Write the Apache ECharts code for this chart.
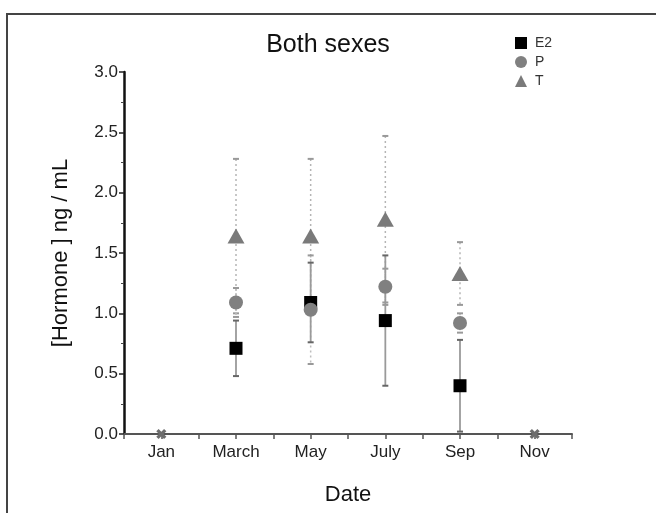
<!DOCTYPE html>
<html><head><meta charset="utf-8">
<script src="https://cdn.jsdelivr.net/npm/echarts@6/dist/echarts.min.js"></script>
<style>html,body{margin:0;padding:0;background:#fff}#c{width:656px;height:513px}</style>
</head><body><div id="c"></div>
<script>
// Tick labels on the month axis
const tickMonths = [1, 3, 5, 7, 9, 11];
const tickLabels = ['Jan', 'March', 'May', 'July', 'Sep', 'Nov'];
// Sampling months
const sampleMonths = [3, 5, 7, 9];
// Hormone means and errors (ng/mL)
const e2Values = [0.71, 1.09, 0.94, 0.40];
const e2Errors = [0.23, 0.33, 0.54, 0.38];
const pValues = [1.09, 1.03, 1.22, 0.92];
const pErrors = [0.12, 0.45, 0.15, 0.08];
const tValues = [1.64, 1.64, 1.78, 1.33];
const tErrors = [0.64, 0.64, 0.69, 0.26];
// Months with no detectable hormone
const ndMonths = [1, 11];
const ndValues = [0, 0];

const FONT = 'Liberation Sans, Arial, sans-serif';

function pts(vals) { return sampleMonths.map((m, i) => [m, vals[i]]); }
function errPts(vals, errs) { return sampleMonths.map((m, i) => [m, vals[i], errs[i]]); }

function errSeries(name, vals, errs, lineStyle, capStyle, capW) {
  return {
    type: 'custom', name: name + ' err', z: 1, silent: true,
    data: errPts(vals, errs),
    renderItem: function (params, api) {
      const x = api.value(0), y = api.value(1), e = api.value(2);
      const top = api.coord([x, y + e]);
      const bot = api.coord([x, Math.max(0, y - e)]);
      return {
        type: 'group', children: [
          { type: 'line', shape: { x1: top[0], y1: top[1], x2: bot[0], y2: bot[1] }, style: lineStyle },
          { type: 'line', shape: { x1: top[0] - capW, y1: top[1], x2: top[0] + capW, y2: top[1] }, style: capStyle },
          { type: 'line', shape: { x1: bot[0] - capW, y1: bot[1], x2: bot[0] + capW, y2: bot[1] }, style: capStyle }
        ]
      };
    }
  };
}

const chart = echarts.init(document.getElementById('c'));
chart.setOption({
  animation: false,
  backgroundColor: '#fff',
  textStyle: { fontFamily: FONT },
  title: {
    text: 'Both sexes', left: 'center', top: 28,
    textStyle: { fontFamily: FONT, fontSize: 25, fontWeight: 'normal', color: '#111' }
  },
  legend: {
    orient: 'vertical', left: 510, top: 31, itemGap: 5, itemWidth: 12, itemHeight: 12,
    data: ['E2', 'P', 'T'],
    textStyle: { fontFamily: FONT, fontSize: 14, color: '#333', padding: [0, 0, 0, 3] }
  },
  grid: { left: 124, right: 84, top: 72, bottom: 79 },
  xAxis: {
    type: 'value', min: 0, max: 12, interval: 1,
    name: 'Date', nameLocation: 'middle', nameGap: 50,
    nameTextStyle: { fontFamily: FONT, fontSize: 22, color: '#111' },
    axisLine: { lineStyle: { color: '#555', width: 2 } },
    axisTick: { show: true, length: 5, lineStyle: { color: '#555', width: 1.5 } },
    splitLine: { show: false },
    axisLabel: {
      fontFamily: FONT, fontSize: 17, color: '#222', margin: 10,
      formatter: function (v) { const i = tickMonths.indexOf(v); return i >= 0 ? tickLabels[i] : ''; }
    }
  },
  yAxis: {
    type: 'value', min: 0, max: 3, interval: 0.5,
    name: '[Hormone ] ng / mL', nameLocation: 'middle', nameGap: 52,
    nameTextStyle: { fontFamily: FONT, fontSize: 22, color: '#111' },
    axisLine: { show: true, lineStyle: { color: '#111', width: 2.5 } },
    axisTick: { show: true, length: 5, lineStyle: { color: '#222', width: 1.5 } },
    minorTick: { show: true, splitNumber: 2, length: 3, lineStyle: { color: '#444', width: 1 } },
    splitLine: { show: false },
    axisLabel: {
      fontFamily: FONT, fontSize: 17, color: '#222', margin: 6,
      formatter: function (v) { return v.toFixed(1); }
    }
  },
  graphic: [
    { type: 'polyline', shape: { points: [[7, 513], [7, 14], [656, 14]] },
      style: { stroke: '#444', lineWidth: 2, fill: null }, z: 10 }
  ],
  series: [
    errSeries('T', tValues, tErrors,
      { stroke: '#b5b5b5', lineWidth: 1.5, lineDash: [2, 3] },
      { stroke: '#999', lineWidth: 2 }, 3),
    errSeries('P', pValues, pErrors,
      { stroke: '#bdbdbd', lineWidth: 1.5, lineDash: [2, 3] },
      { stroke: '#999', lineWidth: 2 }, 3),
    errSeries('E2', e2Values, e2Errors,
      { stroke: '#9a9a9a', lineWidth: 1.8 },
      { stroke: '#666', lineWidth: 2 }, 3),
    { name: 'E2', type: 'scatter', z: 3, symbol: 'rect', symbolSize: 13,
      itemStyle: { color: '#000', opacity: 1 }, data: pts(e2Values) },
    { name: 'P', type: 'scatter', z: 4, symbol: 'circle', symbolSize: 14,
      itemStyle: { color: '#808080', opacity: 1 }, data: pts(pValues) },
    { name: 'T', type: 'scatter', z: 5, symbol: 'triangle', symbolSize: [17, 15],
      itemStyle: { color: '#7a7a7a', opacity: 1 }, data: pts(tValues) },
    { name: 'nd', type: 'scatter', z: 6,
      symbol: 'path://M3.5,0H6.5V3.5H10V6.5H6.5V10H3.5V6.5H0V3.5H3.5Z', symbolSize: 11,
      symbolRotate: 45,
      itemStyle: { color: '#6e6e6e', opacity: 1 },
      data: ndMonths.map((m, i) => [m, ndValues[i]]) }
  ]
});
</script></body></html>
